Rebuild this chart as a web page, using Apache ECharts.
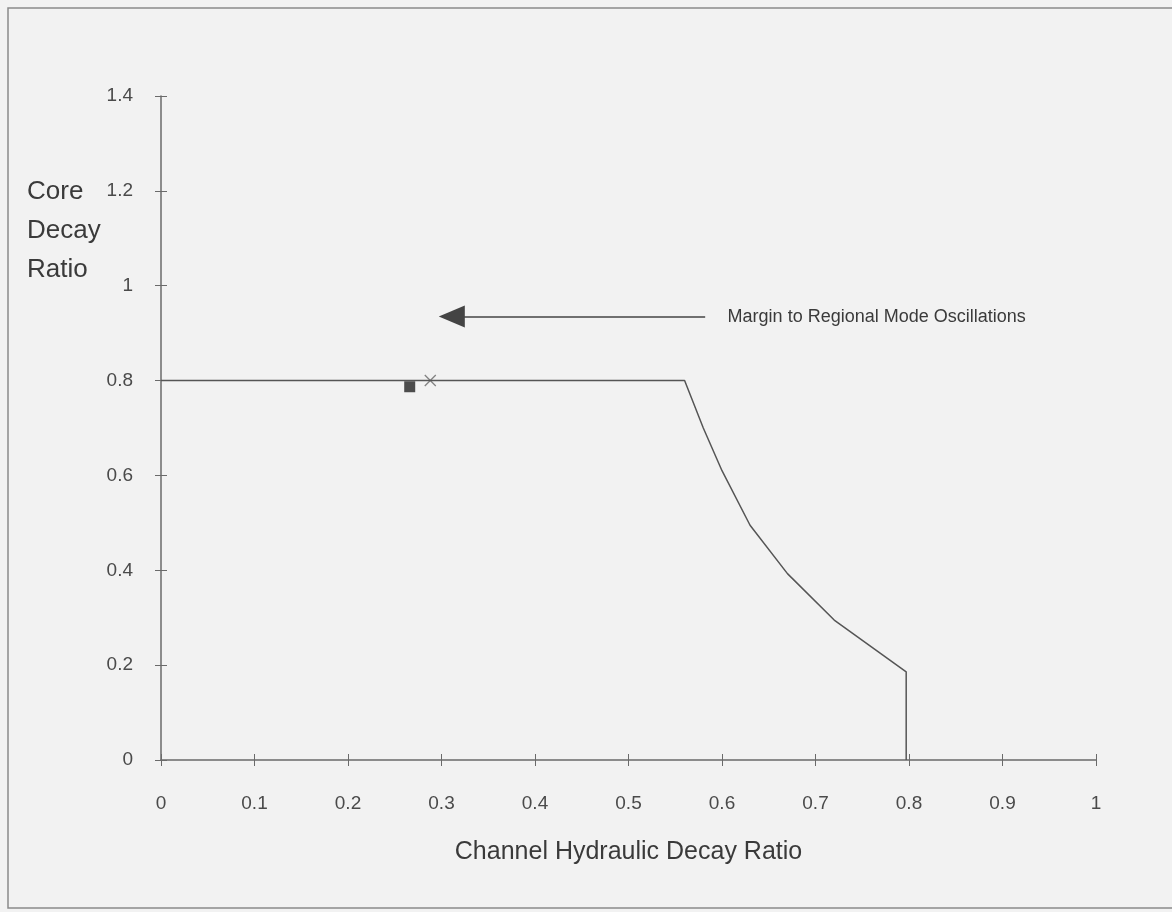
<!DOCTYPE html>
<html>
<head>
<meta charset="utf-8">
<script src="https://cdn.jsdelivr.net/npm/echarts@6/dist/echarts.min.js"></script>
<style>
html,body{margin:0;padding:0;background:#f2f2f2;}
#c{width:1172px;height:912px;}
</style>
</head>
<body>
<div id="c"></div>
<script>
// Data
var xTickLabels = ['0','0.1','0.2','0.3','0.4','0.5','0.6','0.7','0.8','0.9','1'];
var yTickLabels = ['0','0.2','0.4','0.6','0.8','1','1.2','1.4'];
var boundaryX = [0, 0.56, 0.58, 0.60, 0.63, 0.67, 0.72, 0.797, 0.797];
var boundaryY = [0.8, 0.8, 0.70, 0.61, 0.495, 0.393, 0.295, 0.186, 0];
var squarePoint = [0.266, 0.787];
var crossPoint = [0.288, 0.8];
var arrowFrom = [0.582, 0.935];
var arrowTo = [0.311, 0.935];
var annotationText = 'Margin to Regional Mode Oscillations';
var annotationPos = [0.606, 0.935];
var xTitle = 'Channel Hydraulic Decay Ratio';
var yTitle = ['Core', 'Decay', 'Ratio'];

var boundary = boundaryX.map(function(x, i){ return [x, boundaryY[i]]; });

var chart = echarts.init(document.getElementById('c'));
var axisColor = '#6a6a6a';
var font = '"Liberation Sans", Arial, sans-serif';

function xLabel(v){ var i = Math.round(v*10); return xTickLabels[i] !== undefined ? xTickLabels[i] : ''; }
function yLabel(v){ var i = Math.round(v*5); return yTickLabels[i] !== undefined ? yTickLabels[i] : ''; }

chart.setOption({
  backgroundColor: '#f2f2f2',
  animation: false,
  grid: {left: 161, right: 76, top: 96, bottom: 152, containLabel: false},
  xAxis: [{
    type: 'value', min: 0, max: 1, interval: 0.1,
    axisLine: {show: true, lineStyle: {color: axisColor, width: 1.5}},
    axisTick: {show: true, length: 6, lineStyle: {color: axisColor}},
    axisLabel: {color: '#4a4a4a', fontSize: 19, fontFamily: font, margin: 34, formatter: xLabel},
    splitLine: {show: false},
    name: xTitle, nameLocation: 'middle', nameGap: 80,
    nameTextStyle: {color: '#3a3a3a', fontSize: 25, fontFamily: font}
  }, {
    type: 'value', min: 0, max: 1, interval: 0.1, position: 'bottom',
    axisLine: {show: false},
    axisTick: {show: true, inside: true, length: 6, lineStyle: {color: axisColor}},
    axisLabel: {show: false}, splitLine: {show: false}
  }],
  yAxis: [{
    type: 'value', min: 0, max: 1.4, interval: 0.2,
    axisLine: {show: true, lineStyle: {color: axisColor, width: 1.5}},
    axisTick: {show: true, length: 6, lineStyle: {color: axisColor}},
    axisLabel: {color: '#4a4a4a', fontSize: 19, fontFamily: font, margin: 28, formatter: yLabel},
    splitLine: {show: false}
  }, {
    type: 'value', min: 0, max: 1.4, interval: 0.2, position: 'left',
    axisLine: {show: false},
    axisTick: {show: true, inside: true, length: 6, lineStyle: {color: axisColor}},
    axisLabel: {show: false}, splitLine: {show: false}
  }],
  graphic: [
    {type: 'rect', shape: {x: 8, y: 8, width: 1200, height: 900}, style: {fill: 'none', stroke: '#8a8a8a', lineWidth: 1.5}, silent: true},
    {type: 'text', left: 27, top: 172, style: {text: yTitle.join('\n'), fill: '#3a3a3a', fontSize: 26, fontFamily: font, lineHeight: 39}}
  ],
  series: [
    {
      type: 'line', data: boundary, showSymbol: false, smooth: false,
      lineStyle: {color: '#555', width: 1.5},
      markLine: {
        silent: true, symbol: ['none', 'triangle'], symbolSize: [22, 26],
        lineStyle: {color: '#444', width: 1.5, type: 'solid'},
        itemStyle: {color: '#333'},
        label: {show: false},
        data: [[{coord: arrowFrom}, {coord: arrowTo}]]
      },
      markPoint: {
        silent: true, symbol: 'circle', symbolSize: 0,
        label: {show: true, position: 'right', distance: 0, formatter: annotationText, color: '#3a3a3a', fontSize: 18, fontFamily: font},
        data: [{coord: annotationPos}]
      }
    },
    {
      type: 'scatter', data: [squarePoint], symbol: 'rect', symbolSize: 11,
      itemStyle: {color: '#222'}
    },
    {
      type: 'scatter', data: [crossPoint], symbol: 'path://M0,0L10,10M10,0L0,10', symbolSize: 11,
      itemStyle: {color: 'none', borderColor: '#666', borderWidth: 1.3}
    }
  ]
});
</script>
</body>
</html>
